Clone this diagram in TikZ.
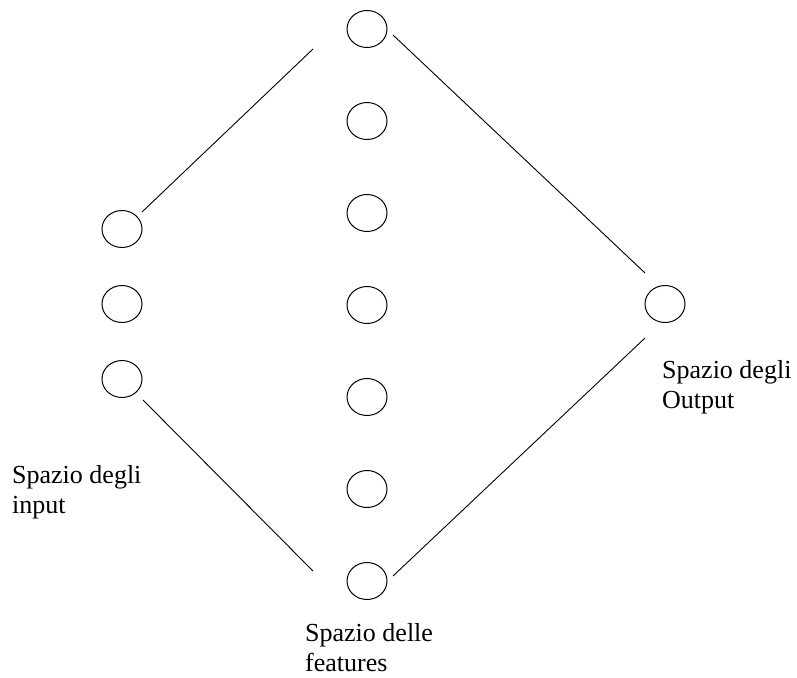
\documentclass[tikz,border=0pt]{standalone}
\usepackage{fontspec}
\setmainfont{Liberation Serif}
\usepackage{tikz}
\usetikzlibrary{shapes.geometric, positioning}
\tikzset{
  unit/.style={ellipse, draw, minimum width=40pt, minimum height=37pt,
    inner sep=0pt, line width=1pt},
  lbl/.style={align=left, inner sep=0pt, anchor=base west,
    font=\fontsize{26}{30}\selectfont},
  conn/.style={line width=0.9pt}
}

\begin{document}
\begin{tikzpicture}[x=1pt, y=-1pt]
  \useasboundingbox (0,0) rectangle (797,677);
  % input space
  \node[unit] (in1) at (122,229) {};
  \node[unit, below=37pt of in1] (in2) {};
  \node[unit, below=37pt of in2] (in3) {};
  % feature space
  \node[unit] (f1) at (367,29) {};
  \node[unit, below=54pt of f1] (f2) {};
  \node[unit, below=54pt of f2] (f3) {};
  \node[unit, below=54pt of f3] (f4) {};
  \node[unit, below=54pt of f4] (f5) {};
  \node[unit, below=54pt of f5] (f6) {};
  \node[unit, below=54pt of f6] (f7) {};
  % output space
  \node[unit] (out) at (665,304) {};
  % connections
  \draw[conn] ([shift={(20,-17)}]in1.center) -- ([shift={(-54,20)}]f1.center);
  \draw[conn] ([shift={(26,6)}]f1.center) -- ([shift={(-20,-31)}]out.center);
  \draw[conn] ([shift={(21,21)}]in3.center) -- ([shift={(-54,-10)}]f7.center);
  \draw[conn] ([shift={(26,-5)}]f7.center) -- ([shift={(-20,34)}]out.center);
  % labels (base = last line)
  \node[lbl] (lin) at (12,513) {Spazio degli\\input};
  \node[lbl] (lout) at (662,408) {Spazio degli\\Output};
  \node[lbl] (lfeat) at (305,671) {Spazio delle\\features};
\end{tikzpicture}
\end{document}
